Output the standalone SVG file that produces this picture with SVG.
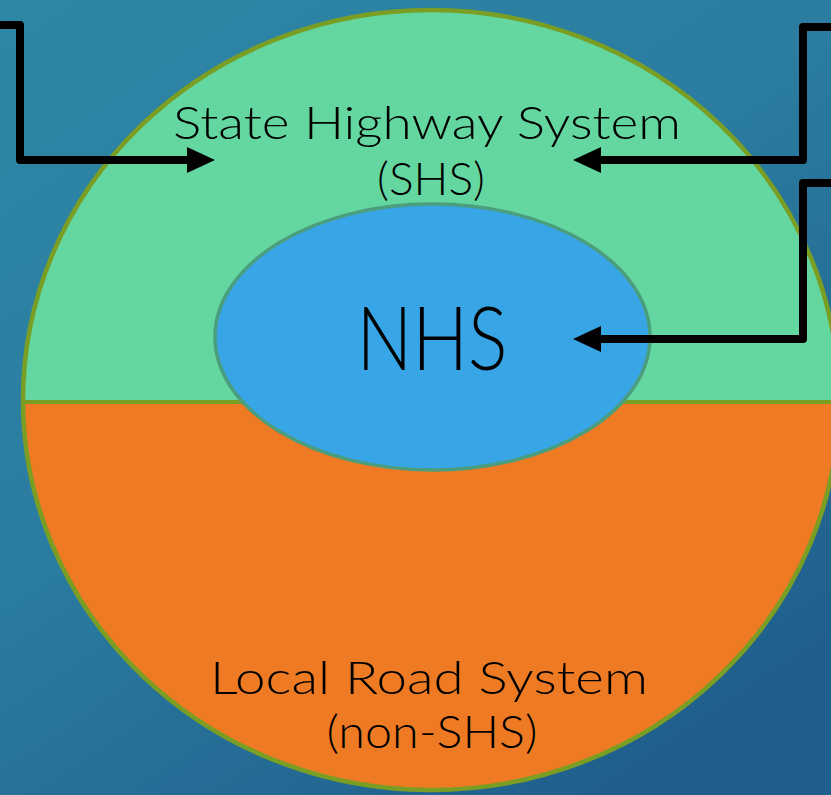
<svg xmlns="http://www.w3.org/2000/svg" width="831" height="795" viewBox="0 0 831 795">
  <defs>
    <linearGradient id="bg" x1="0" y1="0" x2="0.7" y2="1">
      <stop offset="0" stop-color="#2E87A5"/>
      <stop offset="0.5" stop-color="#2A7CA0"/>
      <stop offset="1" stop-color="#205F8D"/>
    </linearGradient>
    <clipPath id="outerClip">
      <ellipse cx="431" cy="400" rx="408" ry="390"/>
    </clipPath>
    <marker id="head" markerUnits="userSpaceOnUse" markerWidth="30" markerHeight="28" refX="5" refY="13" orient="auto" viewBox="0 0 30 28">
      <path d="M0,0 L28,13 L0,26 Z" fill="#000"/>
    </marker>
    <style>
      .lbl { font-family: "Lato", "Liberation Sans", sans-serif; font-weight: 300; fill: #000; text-anchor: middle; }
      .conn { fill: none; stroke: #000; stroke-width: 8; stroke-linejoin: round; marker-end: url(#head); }
    </style>
  </defs>

  <rect x="0" y="0" width="831" height="795" fill="url(#bg)"/>

  <g id="shs-local">
    <g clip-path="url(#outerClip)">
      <rect x="0" y="0" width="831" height="402" fill="#64D6A0"/>
      <rect x="0" y="402" width="831" height="400" fill="#EE7B23"/>
      <line x1="0" y1="402" x2="831" y2="402" stroke="#7A9E24" stroke-width="4"/>
    </g>
    <ellipse cx="431" cy="400" rx="408" ry="390" fill="none" stroke="#7A9E24" stroke-width="4.5"/>
  </g>

  <g id="shs-label">
    <text class="lbl" x="427" y="139" font-size="46" textLength="508" lengthAdjust="spacingAndGlyphs">State Highway System</text>
    <text class="lbl" x="431" y="195" font-size="46" textLength="108" lengthAdjust="spacingAndGlyphs">(SHS)</text>
  </g>

  <g id="local-label">
    <text class="lbl" x="429" y="694" font-size="46" textLength="438" lengthAdjust="spacingAndGlyphs">Local Road System</text>
    <text class="lbl" x="432" y="748" font-size="46" textLength="211" lengthAdjust="spacingAndGlyphs">(non-SHS)</text>
  </g>

  <g id="nhs">
    <ellipse cx="432.5" cy="337" rx="217.5" ry="133" fill="#38A5E6" stroke="#4A9E7E" stroke-width="3.5"/>
    <text class="lbl" x="432" y="370" font-size="88" textLength="151" lengthAdjust="spacingAndGlyphs">NHS</text>
  </g>

  <g id="connectors">
    <path class="conn" d="M-5,25 H20 V160 H192"/>
    <path class="conn" d="M836,27 H803 V160 H596"/>
    <path class="conn" d="M836,183 H803 V339 H596"/>
  </g>
</svg>
